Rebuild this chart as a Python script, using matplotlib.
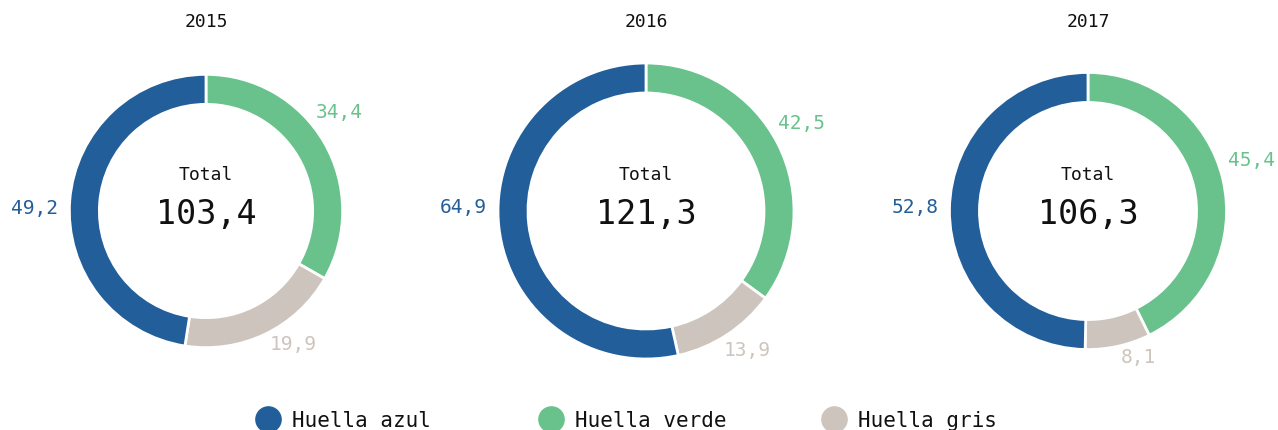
import matplotlib.pyplot as plt
import numpy as np

years = ['2015', '2016', '2017']
azul = [49.2, 64.9, 52.8]
verde = [34.4, 42.5, 45.4]
gris = [19.9, 13.9, 8.1]
totals = [103.4, 121.3, 106.3]
categories = ['Huella azul', 'Huella verde', 'Huella gris']
colors = {'azul': '#225e9a', 'verde': '#69c28c', 'gris': '#cdc5bd'}

plt.rcParams['font.family'] = ['DejaVu Sans Mono']

fig = plt.figure(figsize=(12.78, 4.31), dpi=100)
ax = fig.add_axes([0, 0, 1, 1])

centers_x = [206, 646, 1088]
cy = 212
k = 148 / np.sqrt(121.3)  # ring area follows the total
ring = 30
# small angle nudges (deg) for the outside labels: verde, gris, azul
nudge = [[-12, 0, -3], [-7, 4, 8], [-7, 0, 1]]


def fmt(v):
    return f'{v:.1f}'.replace('.', ',')


for i, yr in enumerate(years):
    vals = [verde[i], gris[i], azul[i]]
    cols = [colors['verde'], colors['gris'], colors['azul']]
    r = k * np.sqrt(totals[i])
    cx = centers_x[i]
    # y axis is inverted later, so counterclock here = clockwise on screen
    ax.pie(vals, colors=cols, center=(cx, cy), radius=r, startangle=-90,
           counterclock=True, frame=True,
           wedgeprops=dict(width=ring, edgecolor='white', linewidth=2))
    ax.text(cx, 22, yr, ha='center', va='center', fontsize=13, color='#111111')
    ax.text(cx, 175, 'Total', ha='center', va='center', fontsize=13, color='#111111')
    ax.text(cx, 215, fmt(totals[i]), ha='center', va='center', fontsize=24, color='#111111')

    start = 0
    s = sum(vals)
    for j, (v, c) in enumerate(zip(vals, cols)):
        frac = v / s * 360
        mid = np.radians(start + frac / 2 + nudge[i][j])
        start += frac
        d = r + 11
        lx = cx + d * np.sin(mid)
        ly = cy - d * np.cos(mid)
        ha = 'left' if np.sin(mid) > 0.05 else 'right'
        ax.text(lx, ly, fmt(v), ha=ha, va='center', fontsize=14, color=c)

ax.set_xlim(0, 1278)
ax.set_ylim(431, 0)
ax.set_aspect('equal')
ax.axis('off')

leg_x = [268, 551, 834]
for x, lab, c in zip(leg_x, categories, colors.values()):
    ax.scatter([x], [420], s=330, color=c, zorder=3, clip_on=False)
    ax.text(x + 24, 421, lab, ha='left', va='center', fontsize=15, color='#111111')

fig.savefig('out.png', dpi=100)
